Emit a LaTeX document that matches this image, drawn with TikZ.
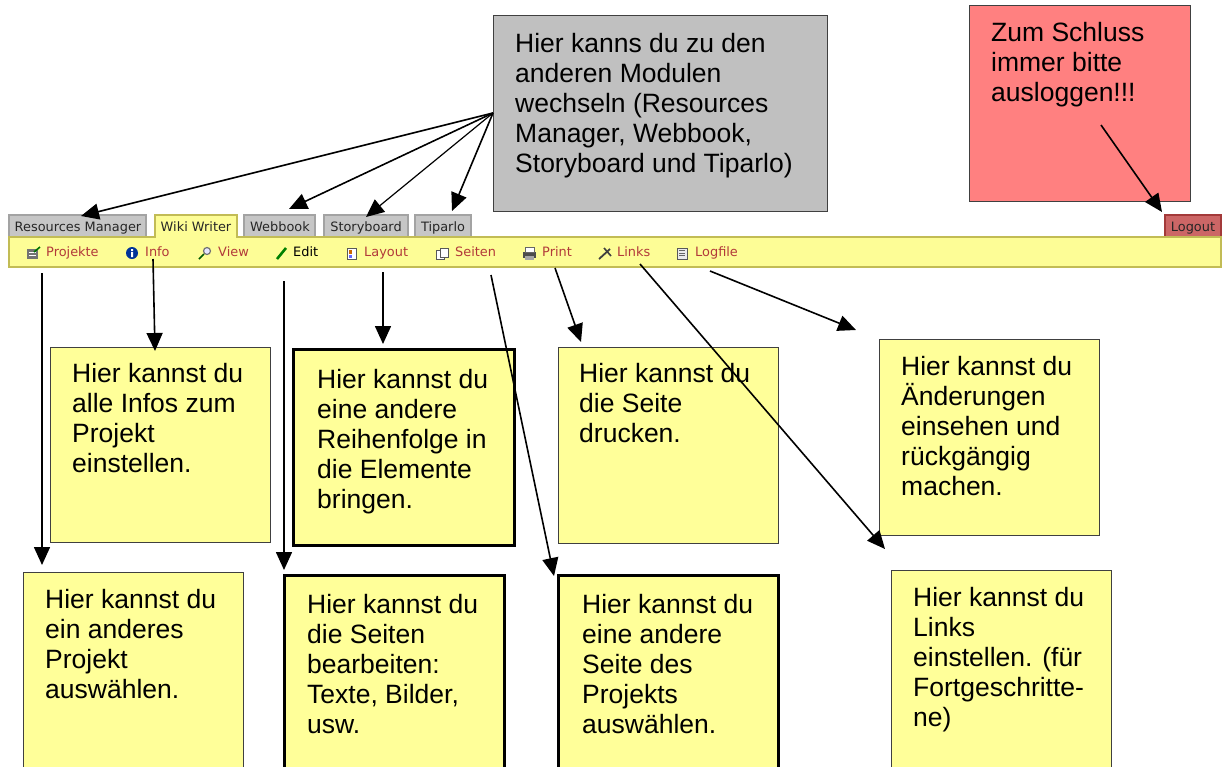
\documentclass[tikz,border=0pt]{standalone}
\usepackage{fontspec}
\setmainfont{Liberation Sans}
\newfontfamily\uifont{DejaVu Sans}
\usetikzlibrary{arrows.meta}
\definecolor{noteY}{HTML}{FFFF99}
\definecolor{barY}{HTML}{FDFD96}
\definecolor{barB}{HTML}{C2BC55}
\definecolor{tabG}{HTML}{C6C6C6}
\definecolor{tabB}{HTML}{A3A3A3}
\definecolor{noteG}{HTML}{C0C0C0}
\definecolor{noteR}{HTML}{FF8080}
\definecolor{logF}{HTML}{CC6666}
\definecolor{logB}{HTML}{A33A3A}
\definecolor{menuR}{HTML}{B23A3A}
\tikzset{
  x=1pt,y=-1pt,
  note/.style={draw=black!75,line width=.8pt,fill=noteY},
  thicknote/.style={draw=black,line width=3pt,fill=noteY},
  notetext/.style={anchor=north west,inner sep=0pt,align=left,font=\fontsize{26.5}{30}\selectfont,text=black},
  tabbox/.style={draw=tabB,line width=2pt,fill=tabG},
  tabtext/.style={anchor=base,inner sep=0pt,font=\uifont\fontsize{12.9}{14}\selectfont,text=black!85},
  menutext/.style={anchor=base west,inner sep=0pt,font=\uifont\fontsize{12.9}{14}\selectfont,text=menuR},
  arr/.style={draw=black,line width=1.6pt,-{Triangle[length=18pt,width=16pt]},shorten >=0pt}
}
\begin{document}
\begin{tikzpicture}
\useasboundingbox (0,0) rectangle (1222,766);
\fill[white] (0,0) rectangle (1222,766);
% tabs
\draw[tabbox] (9,237) |- (146,215) -- (146,237);
\node[tabtext] (tRes) at (78,231) {Resources Manager};
\draw[tabbox] (244,237) |- (315,215) -- (315,237);
\node[tabtext] (tWeb) at (280,231) {Webbook};
\draw[tabbox] (324,237) |- (408,215) -- (408,237);
\node[tabtext] (tSto) at (366,231) {Storyboard};
\draw[tabbox] (415,237) |- (471,215) -- (471,237);
\node[tabtext] (tTip) at (443,231) {Tiparlo};
\draw[tabbox,draw=logB,fill=logF] (1165,237) |- (1221,215) -- (1221,237);
\node[tabtext] (tLog) at (1193,231) {Logout};
% bar
\draw[draw=barB,line width=2pt,fill=barY] (9,237) rectangle (1221,267);
\draw[draw=barB,line width=2pt,fill=barY] (155,238) |- (237,215) -- (237,238);
\fill[barY] (156,236) rectangle (236,239);
\node[tabtext] (tWik) at (196,231) {Wiki Writer};
% menu
\node[menutext] (mPro) at (46,256) {Projekte};
\node[menutext] (mInf) at (145,256) {Info};
\node[menutext] (mVie) at (218,256) {View};
\node[menutext,text=black] (mEdi) at (293,256) {Edit};
\node[menutext] (mLay) at (364,256) {Layout};
\node[menutext] (mSei) at (455,256) {Seiten};
\node[menutext] (mPri) at (542,256) {Print};
\node[menutext] (mLin) at (617,256) {Links};
\node[menutext] (mLgf) at (695,256) {Logfile};
% icons
\fill[black!55] (27,249) rectangle (38,259);
\draw[white,line width=.5pt] (29,252)--(36,252) (29,255)--(36,255);
\draw[green!45!black,line width=1.6pt] (34,252)--(40,247);
\fill[blue!50!black!80!cyan] (132,253) circle (6);
\fill[white] (131,252) rectangle (133,257) (131,249) rectangle (133,251);
\draw[green!35!black,line width=1.6pt] (199,259)--(204,254);
\draw[black!55,fill=blue!10,line width=1.2pt] (207,251) circle (3.5);
\draw[green!50!black,line width=2.6pt] (277,259)--(286,248);
\draw[black!65,fill=white,line width=.7pt] (347,248) rectangle (356,259);
\fill[orange!80!black] (349,250) rectangle (352,254);
\fill[blue!60] (349,255) rectangle (352,258);
\draw[black!65,fill=white,line width=.7pt] (436,250) rectangle (444,259);
\draw[black!65,fill=white,line width=.7pt] (440,248) rectangle (448,257);
\fill[black!70] (523,252) rectangle (536,258);
\draw[black!60,fill=white,line width=.6pt] (525,247) rectangle (534,252);
\fill[black!35] (525,256) rectangle (534,260);
\draw[black!75,line width=1.8pt] (599,259)--(610,249);
\draw[black!75,line width=1.6pt] (604,248)--(611,256);
\draw[black!65,fill=black!8,line width=.7pt] (677,248) rectangle (687,259);
\draw[black!60,line width=.6pt] (679,250.5)--(685,250.5) (679,253)--(685,253) (679,255.5)--(685,255.5);
% notes
\node[draw=black!75,line width=.8pt,fill=noteG,minimum width=334pt,minimum height=196pt,inner sep=0pt,anchor=north west] (gBox) at (493,15) {};
\node[notetext] (gTxt) at (515,33) {Hier kanns du zu den\\anderen Modulen\\wechseln (Resources\\Manager, Webbook,\\Storyboard und Tiparlo)};
\node[draw=black!75,line width=.8pt,fill=noteR,minimum width=221pt,minimum height=196pt,inner sep=0pt,anchor=north west] (rBox) at (969,5) {};
\node[notetext] (rTxt) at (991,22) {Zum Schluss\\immer bitte\\ausloggen!!!};
\path[note] (50,347) rectangle (270,542);
\node[notetext] (iTxt) at (72,363) {Hier kannst du\\alle Infos zum\\Projekt\\einstellen.};
\path[thicknote] (293,349) rectangle (514,545);
\node[notetext] (lTxt) at (317,369) {Hier kannst du\\eine andere\\Reihenfolge in\\die Elemente\\bringen.};
\path[note] (558,347) rectangle (778,543);
\node[notetext] (prTxt) at (579,363) {Hier kannst du\\die Seite\\drucken.};
\path[note] (879,339) rectangle (1099,535);
\node[notetext] (lgTxt) at (901,356) {Hier kannst du\\Änderungen\\einsehen und\\rückgängig\\machen.};
\path[note] (23,572) rectangle (243,770);
\node[notetext] (pTxt) at (45,589) {Hier kannst du\\ein anderes\\Projekt\\auswählen.};
\path[thicknote] (284,575) rectangle (504,772);
\node[notetext] (eTxt) at (307,594) {Hier kannst du\\die Seiten\\bearbeiten:\\Texte, Bilder,\\usw.};
\path[thicknote] (558,575) rectangle (778,772);
\node[notetext] (sTxt) at (582,594) {Hier kannst du\\eine andere\\Seite des\\Projekts\\auswählen.};
\path[note] (891,570) rectangle (1111,770);
\node[notetext] (liTxt) at (913,587) {Hier kannst du\\Links\\einstellen. (für\\Fortgeschritte-\\ne)};
% connector ends
\coordinate (s0) at (493,113);
\coordinate (aRes) at (81,216);
\coordinate (aWeb) at (289,209);
\coordinate (aSto) at (366,217);
\coordinate (aTip) at (452,211);
\coordinate (sLog) at (1101,125);
\coordinate (aLog) at (1162,212);
\draw[arr] (s0) -- (aRes);
\draw[arr] (s0) -- (aWeb);
\draw[arr,line width=1.2pt] (s0) -- (aSto);
\draw[arr] (s0) -- (aTip);
\draw[arr] (sLog) -- (aLog);
\coordinate (d1) at (42,273); \coordinate (e1) at (42,565);
\coordinate (d2) at (153,259); \coordinate (e2) at (155,351);
\coordinate (d3) at (284,281); \coordinate (e3) at (284,570);
\coordinate (d4) at (383,272); \coordinate (e4) at (383,344);
\coordinate (d5) at (491,275); \coordinate (e5) at (554,576);
\coordinate (d6) at (555,268); \coordinate (e6) at (581,342);
\coordinate (d7) at (640,264); \coordinate (e7) at (885,549);
\coordinate (d8) at (710,271); \coordinate (e8) at (856,330);
\foreach \i in {1,...,8} {\draw[arr] (d\i) -- (e\i);}
\end{tikzpicture}
\end{document}
